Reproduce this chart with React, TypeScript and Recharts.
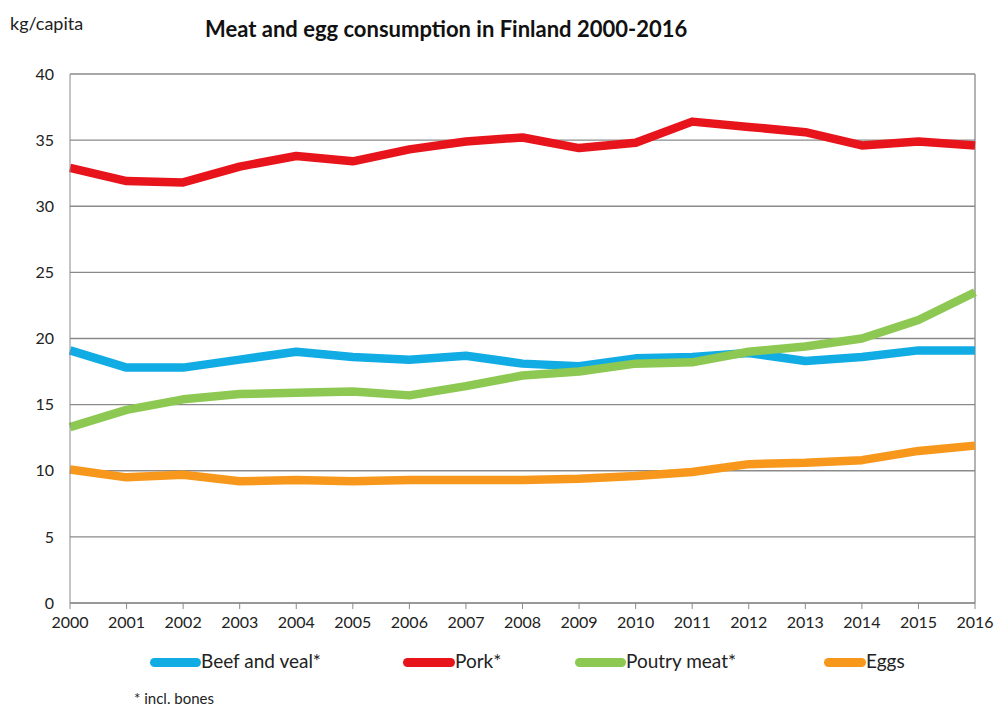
import React from "react";
import { LineChart, Line, XAxis, YAxis, CartesianGrid, ReferenceLine } from "recharts";

const years = ["2000","2001","2002","2003","2004","2005","2006","2007","2008","2009","2010","2011","2012","2013","2014","2015","2016"];
const beef = [19.1, 17.8, 17.8, 18.4, 19.0, 18.6, 18.4, 18.7, 18.1, 17.9, 18.5, 18.6, 18.9, 18.3, 18.6, 19.1, 19.1];
const pork = [32.9, 31.9, 31.8, 33.0, 33.8, 33.4, 34.3, 34.9, 35.2, 34.4, 34.8, 36.4, 36.0, 35.6, 34.6, 34.9, 34.6];
const poultry = [13.3, 14.6, 15.4, 15.8, 15.9, 16.0, 15.7, 16.4, 17.2, 17.5, 18.1, 18.2, 19.0, 19.4, 20.0, 21.4, 23.5];
const eggs = [10.1, 9.5, 9.7, 9.2, 9.3, 9.2, 9.3, 9.3, 9.3, 9.4, 9.6, 9.9, 10.5, 10.6, 10.8, 11.5, 11.9];
const yTicks = [0, 5, 10, 15, 20, 25, 30, 35, 40];

const seriesNames = ["Beef and veal*", "Pork*", "Poutry meat*", "Eggs"];
const seriesKeys = ["beef", "pork", "poultry", "eggs"];
const colors = ["#12ACE4", "#E8141B", "#8DC952", "#F7981D"];

const data = years.map((y, i) => ({
  year: y,
  beef: beef[i],
  pork: pork[i],
  poultry: poultry[i],
  eggs: eggs[i],
}));

const FONT = "Lato, 'Open Sans', sans-serif";

const legendPos = [
  { swatch: 150, text: 201 },
  { swatch: 403, text: 455 },
  { swatch: 575, text: 626 },
  { swatch: 824, text: 866 },
];

export default function App() {
  return (
    <div style={{ position: "absolute", left: 0, top: 0, width: 997, height: 708, background: "#fff", fontFamily: FONT }}>
      <div style={{ position: "absolute", left: 10, top: 12, fontSize: 18, color: "#222" }}>kg/capita</div>
      <div style={{ position: "absolute", left: 205, top: 15, fontSize: 22, fontWeight: 700, color: "#111" }}>
        Meat and egg consumption in Finland 2000-2016
      </div>
      <LineChart
        width={997}
        height={708}
        data={data}
        margin={{ top: 74, right: 22, bottom: 75, left: 20 }}
      >
        <CartesianGrid vertical={false} stroke="#8a8a8a" strokeWidth={1.3} />
        <XAxis
          dataKey="year"
          height={30}
          interval={0}
          stroke="#8a8a8a"
          tickSize={6}
          tick={{ fill: "#222", fontSize: 16, fontFamily: FONT, dy: 6 }}
        />
        <YAxis
          width={50}
          domain={[0, 40]}
          ticks={yTicks}
          interval={0}
          tickLine={false}
          stroke="#8a8a8a"
          tick={{ fill: "#222", fontSize: 16, fontFamily: FONT, dx: -8 }}
        />
        <ReferenceLine x="2016" stroke="#8a8a8a" strokeWidth={1.3} />
        {seriesKeys.map((k, i) => (
          <Line
            key={k}
            type="linear"
            dataKey={k}
            stroke={colors[i]}
            strokeWidth={8.5}
            dot={false}
            strokeLinejoin="round"
            isAnimationActive={false}
          />
        ))}
      </LineChart>
      {seriesNames.map((n, i) => (
        <React.Fragment key={n}>
          <div
            style={{
              position: "absolute",
              left: legendPos[i].swatch,
              top: 658,
              width: legendPos[i].text - legendPos[i].swatch,
              height: 9,
              borderRadius: 5,
              background: colors[i],
            }}
          />
          <div style={{ position: "absolute", left: legendPos[i].text, top: 649, fontSize: 19, color: "#222" }}>{n}</div>
        </React.Fragment>
      ))}
      <div style={{ position: "absolute", left: 134, top: 689, fontSize: 15, color: "#222" }}>* incl. bones</div>
    </div>
  );
}
